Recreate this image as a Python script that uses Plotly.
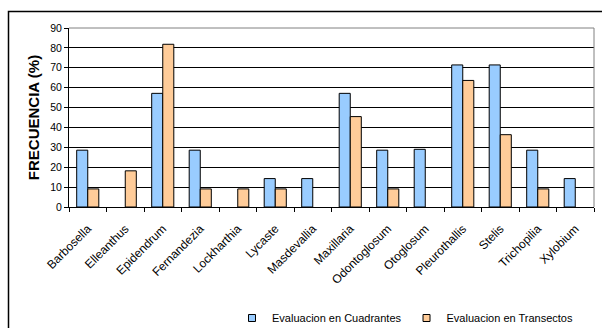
import plotly.graph_objects as go

categories = ["Barbosella", "Elleanthus", "Epidendrum", "Fernandezia", "Lockharthia",
              "Lycaste", "Masdevallia", "Maxillaria", "Odontoglosum", "Otoglosum",
              "Pleurothallis", "Stelis", "Trichopilia", "Xylobium"]
cuadrantes = [28.57, 0, 57.14, 28.57, 0, 14.29, 14.29, 57.14, 28.57, 29.0,
              71.43, 71.43, 28.57, 14.29]
transectos = [9.09, 18.18, 81.82, 9.09, 9.09, 9.09, 0, 45.45, 9.09, 0,
              63.64, 36.36, 9.09, 0]
series_names = ["Evaluacion en Cuadrantes", "Evaluacion en Transectos"]
colors = ["#99CCFF", "#FFCC99"]
y_ticks = [0, 10, 20, 30, 40, 50, 60, 70, 80, 90]

W, H = 602, 328
L, R, T, B = 69, 8, 28, 121

fig = go.Figure()
for name, vals, col in zip(series_names, [cuadrantes, transectos], colors):
    fig.add_trace(go.Bar(x=categories, y=[v if v else None for v in vals], name=name,
                         showlegend=False,
                         marker=dict(color=col, line=dict(color="#000000", width=1))))
    # legend proxies
    fig.add_trace(go.Scatter(x=[None], y=[None], mode="markers", name=name,
                             marker=dict(symbol="square", size=7, color=col,
                                         line=dict(color="#000000", width=1))))

pw = W - L - R
ph = H - T - B

def px_x(x):
    return (x - L) / pw

def px_y(y):
    return (H - B - y) / ph

fig.update_layout(
    width=W, height=H,
    margin=dict(l=L, r=R, t=T, b=B, autoexpand=False),
    paper_bgcolor="white", plot_bgcolor="white",
    font=dict(family="Arial, Liberation Sans, sans-serif", size=10, color="#000000"),
    barmode="group", bargap=0.41, bargroupgap=0,
    showlegend=True,
    legend=dict(orientation="h", x=px_x(578), xanchor="right", y=px_y(318), yanchor="middle",
                font=dict(size=11), bgcolor="rgba(0,0,0,0)", itemwidth=30,
                tracegroupgap=0, traceorder="normal"),
    xaxis=dict(showline=True, linecolor="#000000", linewidth=1, ticks="outside",
               tickson="boundaries", ticklen=4, tickcolor="#000000", tickangle=-45,
               showgrid=False, tickfont=dict(size=12), automargin=False,
               ticklabelstandoff=9),
    yaxis=dict(range=[0, 90], tickvals=y_ticks, showline=True, linecolor="#000000",
               linewidth=1, ticks="outside", ticklen=4, tickcolor="#000000",
               showgrid=True, gridcolor="#000000", gridwidth=1, zeroline=False,
               tickfont=dict(size=10.5), automargin=False,
               title=dict(text="<b>FRECUENCIA (%)</b>", font=dict(size=15), standoff=6)),
    shapes=[
        dict(type="line", xref="paper", yref="paper", x0=0, x1=1, y0=1, y1=1,
             line=dict(color="#808080", width=1), layer="above"),
        dict(type="line", xref="paper", yref="paper", x0=1, x1=1, y0=0, y1=1,
             line=dict(color="#808080", width=1), layer="above"),
        dict(type="rect", xref="paper", yref="paper",
             x0=px_x(8.5), x1=px_x(620), y0=px_y(11.5), y1=px_y(340),
             line=dict(color="#000000", width=1.5), layer="above"),
    ],
)

fig.write_html("out.html")
